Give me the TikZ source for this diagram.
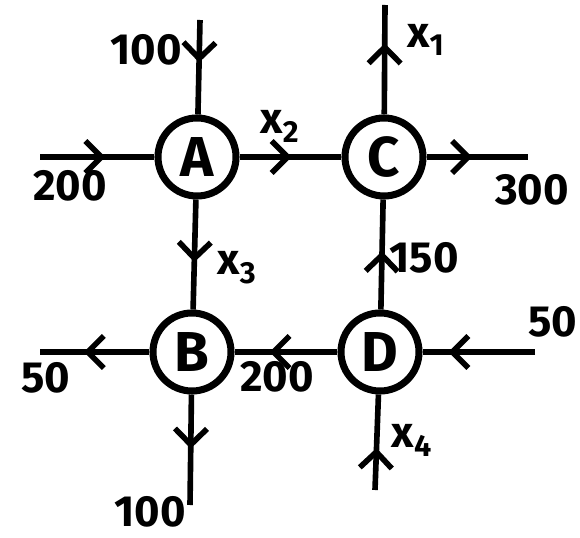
\documentclass[tikz,border=0pt]{standalone}
\usepackage{fontspec}
\setsansfont{Fira Sans}
\usetikzlibrary{arrows.meta, decorations.markings}

\tikzset{
  junction/.style={circle, draw, line width=5pt, minimum size=1.95cm,
                   inner sep=0pt, font=\sffamily\bfseries\fontsize{40}{40}\selectfont},
  flow/.style={line width=4pt, postaction={decorate},
               decoration={markings, mark=at position #1 with
                 {\arrow{Straight Barb[length=0.4cm, width=0.8cm, line width=4pt]}}}},
  amount/.style={font=\sffamily\bfseries\fontsize{31}{31}\selectfont, inner sep=0pt},
}

\begin{document}
\begin{tikzpicture}[x=0.025cm, y=-0.025cm]
  \useasboundingbox (0,0) rectangle (580,538);

  % junctions
  \node[junction] (A) at (197,157) {A};
  \node[junction] (C) at (384,157) {C};
  \node[junction] (B) at (192,352) {B};
  \node[junction] (D) at (380,352) {D};

  % loose ends
  \coordinate (topA) at (200,20);
  \coordinate (inA)  at (40,157);
  \coordinate (topC) at (385,5);
  \coordinate (outC) at (528,157);
  \coordinate (outB) at (40,352);
  \coordinate (botB) at (190,505);
  \coordinate (inD)  at (535,352);
  \coordinate (botD) at (375,490);

  % flows
  \draw[flow=0.45] (topA) -- (A);
  \draw[flow=0.57] (inA) -- (A);
  \draw[flow=0.51] (A) -- (C);
  \draw[flow=0.65] (C) -- (topC);
  \draw[flow=0.45] (C) -- (outC);
  \draw[flow=0.57] (A) -- (B);
  \draw[flow=0.53] (D) -- (C);
  \draw[flow=0.66] (D) -- (B);
  \draw[flow=0.60] (B) -- (outB);
  \draw[flow=0.77] (inD) -- (D);
  \draw[flow=0.44] (botD) -- (D);
  \draw[flow=0.49] (B) -- (botB);

  % amounts
  \node[amount] (lTopA) at (146,50)  {100};
  \node[amount] (lInA)  at (70,186)  {200};
  \node[amount] (lAC)   at (280,126) {x\textsubscript{2}};
  \node[amount] (lTopC) at (426,40)  {x\textsubscript{1}};
  \node[amount] (lOutC) at (532,190) {300};
  \node[amount] (lAB)   at (237,268) {x\textsubscript{3}};
  \node[amount] (lDC)   at (424,258) {150};
  \node[amount] (lDB)   at (277,377) {200};
  \node[amount] (lOutB) at (46,378)  {50};
  \node[amount] (lInD)  at (553,322) {50};
  \node[amount] (lBotD) at (412,440) {x\textsubscript{4}};
  \node[amount] (lBotB) at (150,512) {100};
\end{tikzpicture}
\end{document}
